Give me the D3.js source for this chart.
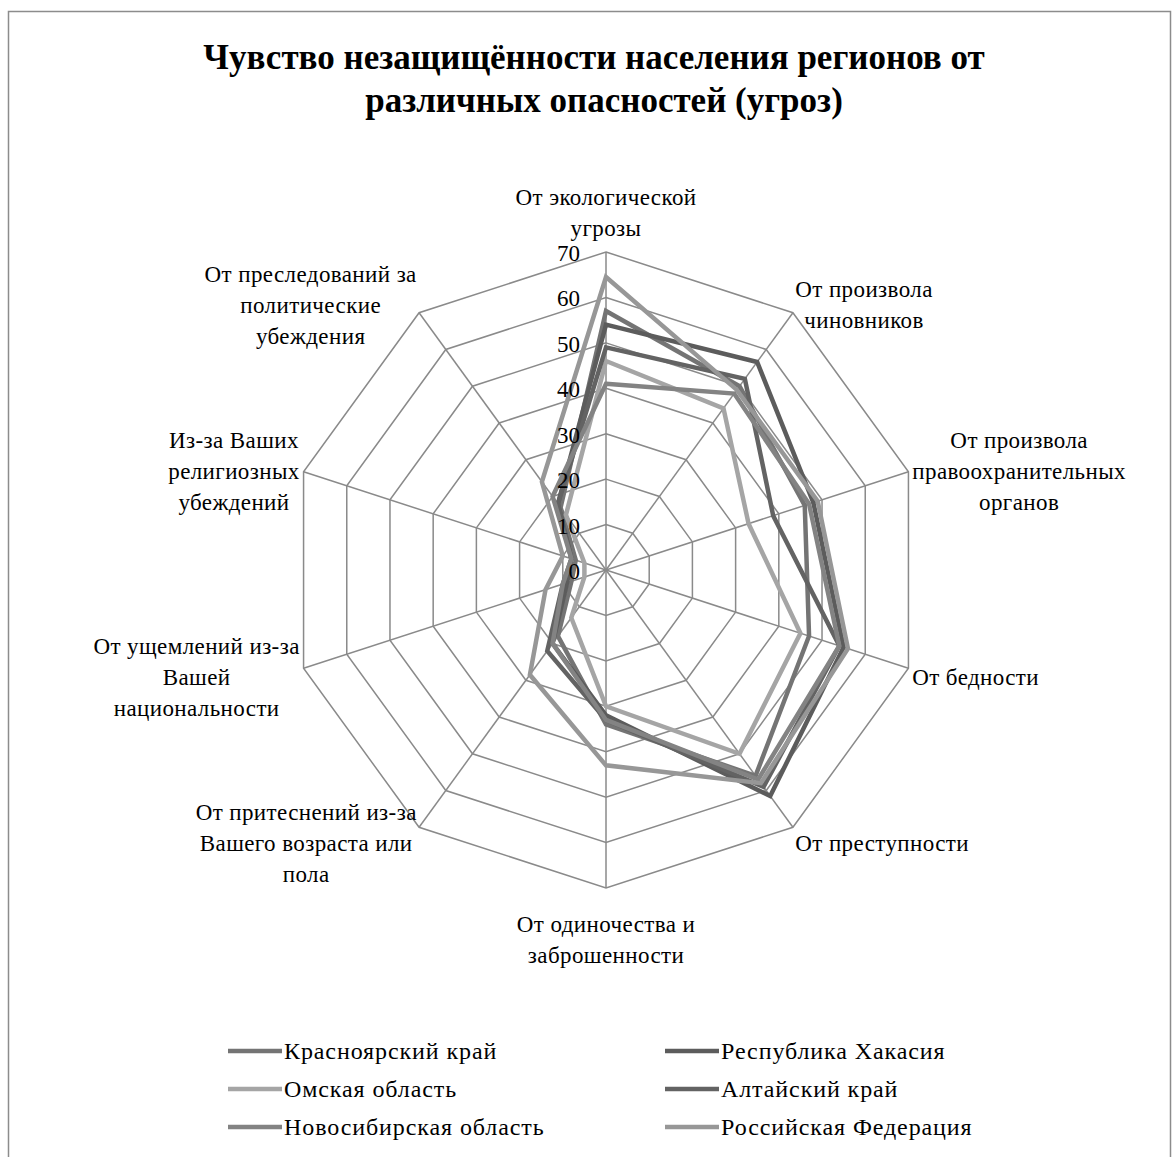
<!DOCTYPE html>
<html>
<head>
<meta charset="utf-8">
<title>radar</title>
<style>
  html, body { margin: 0; padding: 0; background: #fff; }
  svg { display: block; }
  text { font-family: "Liberation Serif", "Times New Roman", serif; fill: #000; }
</style>
</head>
<body>
<svg id="chart" width="1173" height="1157"></svg>
<script src="https://cdn.jsdelivr.net/npm/d3@7/dist/d3.min.js"></script>
<script>
// axis names, clockwise from the top
const axes = [
  ["От экологической", "угрозы"],
  ["От произвола", "чиновников"],
  ["От произвола", "правоохранительных", "органов"],
  ["От бедности"],
  ["От преступности"],
  ["От одиночества и", "заброшенности"],
  ["От притеснений из-за", "Вашего возраста или", "пола"],
  ["От ущемлений из-за", "Вашей", "национальности"],
  ["Из-за Ваших", "религиозных", "убеждений"],
  ["От преследований за", "политические", "убеждения"]
];

const ticks = [0, 10, 20, 30, 40, 50, 60, 70];

const seriesNames = ["Красноярский край", "Республика Хакасия", "Омская область",
                     "Алтайский край", "Новосибирская область", "Российская Федерация"];
const seriesColors = ["#747474", "#5c5c5c", "#a5a5a5", "#636363", "#838383", "#979797"];

const krasnoyarsk  = [57, 50, 46, 47, 56, 34, 18, 8, 7, 17];
const khakasia     = [54, 56.6, 48, 55, 61.5, 32, 20, 9, 8, 18];
const omsk         = [46, 44, 33, 45, 50, 30, 13, 5, 5, 15];
const altai        = [49, 52, 38.7, 54, 59, 33, 22, 10, 8, 18];
const novosibirsk  = [41, 48, 47, 54, 57, 33, 20, 10, 8, 20];
const russia       = [64.5, 49, 49, 56, 58, 43, 28.5, 14, 10, 24];
const seriesValues = [krasnoyarsk, khakasia, omsk, altai, novosibirsk, russia];

const cx = 606, cy = 570;
const svg = d3.select("#chart");

// frame
svg.append("rect")
   .attr("x", 8.5).attr("y", 11.5)
   .attr("width", 1162).attr("height", 1160)
   .style("fill", "none").style("stroke", "#8c8c8c").style("stroke-width", 1.5);

// title
const title = svg.append("text")
   .attr("text-anchor", "middle")
   .style("font-size", "35px").style("font-weight", "bold");
title.append("tspan").attr("x", 594).attr("y", 69).text("Чувство незащищённости населения регионов от");
title.append("tspan").attr("x", 604).attr("y", 112).text("различных опасностей (угроз)");

const r = d3.scaleLinear().domain([0, 70]).range([0, 318]);
const angle = d3.scaleLinear().domain([0, axes.length]).range([0, 2 * Math.PI]);

const g = svg.append("g").attr("transform", "translate(" + cx + "," + cy + ")");

// grid rings
ticks.filter(t => t > 0).forEach(t => {
  g.append("path")
   .attr("d", d3.lineRadial().curve(d3.curveLinearClosed)
                 .angle((d, i) => angle(i)).radius(() => r(t))(axes))
   .style("fill", "none").style("stroke", "#8a8a8a").style("stroke-width", 1.5);
});

// spokes
g.selectAll("line.spoke")
 .data(axes)
 .enter()
 .append("line")
 .attr("class", "spoke")
 .attr("x1", 0).attr("y1", 0)
 .attr("x2", (d, i) => r(70) * Math.sin(angle(i)))
 .attr("y2", (d, i) => -r(70) * Math.cos(angle(i)))
 .style("stroke", "#8a8a8a").style("stroke-width", 1.5);

// series
const radial = d3.lineRadial()
                 .curve(d3.curveLinearClosed)
                 .angle((d, i) => angle(i))
                 .radius(d => r(d));

g.selectAll("path.series")
 .data(seriesValues)
 .enter()
 .append("path")
 .attr("class", "series")
 .attr("d", d => radial(d))
 .style("fill", "none")
 .style("stroke", (d, i) => seriesColors[i])
 .style("stroke-width", 4.5)
 .style("stroke-linejoin", "miter");

// tick labels
g.selectAll("text.tick")
 .data(ticks)
 .enter()
 .append("text")
 .attr("class", "tick")
 .attr("x", -26)
 .attr("y", d => -r(d) + 9)
 .attr("text-anchor", "end")
 .style("font-size", "23px")
 .text(d => d);

// axis labels
const pad = 4;
axes.forEach((lines, i) => {
  const a = angle(i);
  const dx = Math.sin(a), dy = -Math.cos(a);
  const px = (r(70) + pad) * dx, py = (r(70) + pad) * dy;
  const lh = 31;
  const t = g.append("text").attr("text-anchor", "middle")
             .style("font-size", "23px").style("letter-spacing", "0.4px");
  lines.forEach((s, k) => t.append("tspan").attr("x", 0).attr("dy", k === 0 ? 0 : lh).text(s));
  const bb = t.node().getBBox();
  let x = px, y;
  if (dx > 0.1) x = px + bb.width / 2;
  else if (dx < -0.1) x = px - bb.width / 2;
  if (dy < -0.9) y = py - (lines.length - 1) * lh - 12;
  else if (dy > 0.9) y = py + 40;
  else y = py - ((lines.length - 1) * lh) / 2 + 12 + dy * 11;
  t.attr("transform", "translate(" + x + "," + y + ")");
});

// legend
const legend = svg.append("g");
seriesNames.forEach((name, i) => {
  const col = i % 2, row = Math.floor(i / 2);
  const lx = col === 0 ? 228 : 665;
  const ly = 1051 + row * 38;
  legend.append("line")
        .attr("x1", lx).attr("x2", lx + 54)
        .attr("y1", ly).attr("y2", ly)
        .style("stroke", seriesColors[i]).style("stroke-width", 4.5);
  legend.append("text")
        .attr("x", lx + 56).attr("y", ly + 8)
        .style("font-size", "24px").style("letter-spacing", "0.9px")
        .text(name);
});
</script>
</body>
</html>
